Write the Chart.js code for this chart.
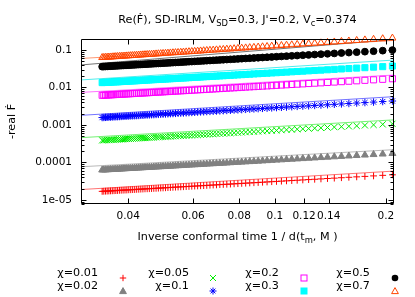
<!DOCTYPE html>
<html><head><meta charset="utf-8">
<script src="https://cdn.jsdelivr.net/npm/chart.js@4"></script>
<style>
html,body{margin:0;padding:0;background:#fff;}
#wrap{position:relative;width:415px;height:297px;overflow:hidden;font-family:"DejaVu Sans",sans-serif;color:#000;}
canvas{position:absolute;left:0;top:0;}
.t{position:absolute;white-space:nowrap;font-size:11.2px;line-height:12px;}
.t sub{font-size:75%;vertical-align:-0.35em;line-height:0;}
.lg{position:absolute;white-space:nowrap;font-size:11.2px;line-height:12px;text-align:right;}
.mk{position:absolute;width:10px;height:10px;}
</style></head><body>
<div id="wrap">
<canvas id="c" width="415" height="297"></canvas>
<div id="title" class="t">Re(Ḟ), SD-IRLM, V<sub>SD</sub>=0.3, J'=0.2, V<sub>c</sub>=0.374</div>
<div id="xtitle" class="t">Inverse conformal time 1 / d(t<sub>m</sub>, M )</div>
<div id="legend"></div>
</div>
<script>
// ---------- data ----------
const invTime = [0.20833,0.19608,0.18519,0.17544,0.16667,0.15873,0.15152,0.14493,0.13889,0.13333,
0.12821,0.12346,0.11905,0.11494,0.11111,0.10753,0.10417,0.10101,0.09804,0.09524,
0.09259,0.09009,0.08772,0.08547,0.08333,0.08130,0.07937,0.07752,0.07576,0.07407,
0.07246,0.07092,0.06944,0.06803,0.06667,0.06536,0.06410,0.06289,0.06173,0.06061,
0.05952,0.05848,0.05747,0.05650,0.05556,0.05464,0.05376,0.05291,0.05208,0.05128,
0.05051,0.04975,0.04902,0.04831,0.04762,0.04695,0.04630,0.04566,0.04505,0.04444,
0.04386,0.04329,0.04274,0.04219,0.04167,0.04115,0.04065,0.04016,0.03968,0.03922,
0.03876,0.03831,0.03788,0.03745,0.03704,0.03663,0.03623,0.03584,0.03546,0.03509,
0.03472,0.03436,0.03401];

const chi001 = [4.69e-5,4.54e-5,4.39e-5,4.26e-5,4.14e-5,4.03e-5,3.93e-5,3.83e-5,3.74e-5,3.65e-5,
3.57e-5,3.50e-5,3.43e-5,3.36e-5,3.30e-5,3.24e-5,3.18e-5,3.13e-5,3.08e-5,3.03e-5,
2.98e-5,2.93e-5,2.89e-5,2.85e-5,2.81e-5,2.77e-5,2.73e-5,2.70e-5,2.66e-5,2.63e-5,
2.60e-5,2.57e-5,2.53e-5,2.51e-5,2.48e-5,2.45e-5,2.42e-5,2.40e-5,2.37e-5,2.35e-5,
2.33e-5,2.30e-5,2.28e-5,2.26e-5,2.24e-5,2.22e-5,2.20e-5,2.18e-5,2.16e-5,2.14e-5,
2.12e-5,2.10e-5,2.09e-5,2.07e-5,2.05e-5,2.04e-5,2.02e-5,2.00e-5,1.99e-5,1.98e-5,
1.96e-5,1.95e-5,1.93e-5,1.92e-5,1.90e-5,1.89e-5,1.88e-5,1.87e-5,1.85e-5,1.84e-5,
1.83e-5,1.82e-5,1.81e-5,1.79e-5,1.78e-5,1.77e-5,1.76e-5,1.75e-5,1.74e-5,1.73e-5,
1.72e-5,1.71e-5,1.70e-5];

const chi002 = [17.39e-5,16.81e-5,16.28e-5,15.79e-5,15.34e-5,14.93e-5,14.55e-5,14.19e-5,13.85e-5,13.54e-5,
13.24e-5,12.97e-5,12.71e-5,12.46e-5,12.23e-5,12.00e-5,11.79e-5,11.59e-5,11.40e-5,11.21e-5,
11.04e-5,10.87e-5,10.71e-5,10.55e-5,10.41e-5,10.26e-5,10.12e-5,9.99e-5,9.87e-5,9.74e-5,
9.62e-5,9.51e-5,9.39e-5,9.29e-5,9.19e-5,9.08e-5,8.98e-5,8.89e-5,8.79e-5,8.71e-5,
8.62e-5,8.54e-5,8.45e-5,8.37e-5,8.29e-5,8.22e-5,8.14e-5,8.07e-5,7.99e-5,7.93e-5,
7.86e-5,7.79e-5,7.73e-5,7.67e-5,7.60e-5,7.55e-5,7.49e-5,7.43e-5,7.37e-5,7.32e-5,
7.26e-5,7.21e-5,7.16e-5,7.11e-5,7.06e-5,7.01e-5,6.96e-5,6.92e-5,6.87e-5,6.82e-5,
6.78e-5,6.73e-5,6.69e-5,6.65e-5,6.61e-5,6.56e-5,6.53e-5,6.49e-5,6.45e-5,6.41e-5,
6.38e-5,6.34e-5,6.30e-5];

const chi005 = [10.76e-4,10.41e-4,10.08e-4,9.77e-4,9.50e-4,9.24e-4,9.01e-4,8.78e-4,8.58e-4,8.38e-4,
8.20e-4,8.03e-4,7.87e-4,7.71e-4,7.57e-4,7.43e-4,7.30e-4,7.18e-4,7.06e-4,6.94e-4,
6.83e-4,6.73e-4,6.63e-4,6.53e-4,6.44e-4,6.35e-4,6.27e-4,6.19e-4,6.11e-4,6.03e-4,
5.96e-4,5.89e-4,5.81e-4,5.75e-4,5.69e-4,5.62e-4,5.56e-4,5.50e-4,5.44e-4,5.39e-4,
5.34e-4,5.28e-4,5.23e-4,5.18e-4,5.13e-4,5.09e-4,5.04e-4,5.00e-4,4.95e-4,4.91e-4,
4.87e-4,4.82e-4,4.79e-4,4.75e-4,4.71e-4,4.67e-4,4.64e-4,4.60e-4,4.56e-4,4.53e-4,
4.50e-4,4.47e-4,4.43e-4,4.40e-4,4.37e-4,4.34e-4,4.31e-4,4.28e-4,4.25e-4,4.22e-4,
4.20e-4,4.17e-4,4.14e-4,4.11e-4,4.09e-4,4.06e-4,4.04e-4,4.02e-4,3.99e-4,3.97e-4,
3.95e-4,3.92e-4,3.90e-4];

const chi01 = [4.36e-3,4.22e-3,4.08e-3,3.96e-3,3.85e-3,3.74e-3,3.65e-3,3.56e-3,3.47e-3,3.40e-3,
3.32e-3,3.25e-3,3.19e-3,3.13e-3,3.07e-3,3.01e-3,2.96e-3,2.91e-3,2.86e-3,2.81e-3,
2.77e-3,2.73e-3,2.69e-3,2.65e-3,2.61e-3,2.57e-3,2.54e-3,2.51e-3,2.47e-3,2.44e-3,
2.41e-3,2.38e-3,2.36e-3,2.33e-3,2.30e-3,2.28e-3,2.25e-3,2.23e-3,2.21e-3,2.18e-3,
2.16e-3,2.14e-3,2.12e-3,2.10e-3,2.08e-3,2.06e-3,2.04e-3,2.02e-3,2.01e-3,1.99e-3,
1.97e-3,1.95e-3,1.94e-3,1.92e-3,1.91e-3,1.89e-3,1.88e-3,1.86e-3,1.85e-3,1.84e-3,
1.82e-3,1.81e-3,1.79e-3,1.78e-3,1.77e-3,1.76e-3,1.75e-3,1.73e-3,1.72e-3,1.71e-3,
1.70e-3,1.69e-3,1.68e-3,1.67e-3,1.66e-3,1.65e-3,1.64e-3,1.63e-3,1.62e-3,1.61e-3,
1.60e-3,1.59e-3,1.58e-3];

const chi02 = [17.11e-3,16.54e-3,16.02e-3,15.54e-3,15.10e-3,14.69e-3,14.32e-3,13.96e-3,13.63e-3,13.32e-3,
13.03e-3,12.76e-3,12.51e-3,12.26e-3,12.03e-3,11.81e-3,11.61e-3,11.41e-3,11.22e-3,11.04e-3,
10.86e-3,10.70e-3,10.54e-3,10.39e-3,10.24e-3,10.10e-3,9.96e-3,9.83e-3,9.71e-3,9.59e-3,
9.47e-3,9.36e-3,9.24e-3,9.14e-3,9.04e-3,8.94e-3,8.84e-3,8.75e-3,8.66e-3,8.57e-3,
8.48e-3,8.40e-3,8.31e-3,8.24e-3,8.16e-3,8.08e-3,8.01e-3,7.94e-3,7.87e-3,7.80e-3,
7.74e-3,7.67e-3,7.61e-3,7.55e-3,7.48e-3,7.43e-3,7.37e-3,7.31e-3,7.25e-3,7.20e-3,
7.15e-3,7.10e-3,7.04e-3,6.99e-3,6.94e-3,6.90e-3,6.85e-3,6.81e-3,6.76e-3,6.71e-3,
6.67e-3,6.63e-3,6.58e-3,6.54e-3,6.50e-3,6.46e-3,6.42e-3,6.39e-3,6.35e-3,6.31e-3,
6.27e-3,6.24e-3,6.20e-3];

const chi03 = [3.73e-2,3.60e-2,3.49e-2,3.38e-2,3.29e-2,3.20e-2,3.12e-2,3.04e-2,2.97e-2,2.90e-2,
2.84e-2,2.78e-2,2.72e-2,2.67e-2,2.62e-2,2.57e-2,2.53e-2,2.48e-2,2.44e-2,2.40e-2,
2.37e-2,2.33e-2,2.30e-2,2.26e-2,2.23e-2,2.20e-2,2.17e-2,2.14e-2,2.11e-2,2.09e-2,
2.06e-2,2.04e-2,2.01e-2,1.99e-2,1.97e-2,1.95e-2,1.93e-2,1.90e-2,1.88e-2,1.87e-2,
1.85e-2,1.83e-2,1.81e-2,1.79e-2,1.78e-2,1.76e-2,1.74e-2,1.73e-2,1.71e-2,1.70e-2,
1.68e-2,1.67e-2,1.66e-2,1.64e-2,1.63e-2,1.62e-2,1.61e-2,1.59e-2,1.58e-2,1.57e-2,
1.56e-2,1.55e-2,1.53e-2,1.52e-2,1.51e-2,1.50e-2,1.49e-2,1.48e-2,1.47e-2,1.46e-2,
1.45e-2,1.44e-2,1.43e-2,1.42e-2,1.42e-2,1.41e-2,1.40e-2,1.39e-2,1.38e-2,1.37e-2,
1.37e-2,1.36e-2,1.35e-2];

const chi05 = [9.94e-2,9.60e-2,9.30e-2,9.02e-2,8.77e-2,8.53e-2,8.31e-2,8.11e-2,7.92e-2,7.74e-2,
7.57e-2,7.41e-2,7.26e-2,7.12e-2,6.99e-2,6.86e-2,6.74e-2,6.62e-2,6.51e-2,6.41e-2,
6.31e-2,6.21e-2,6.12e-2,6.03e-2,5.95e-2,5.86e-2,5.79e-2,5.71e-2,5.64e-2,5.57e-2,
5.50e-2,5.43e-2,5.37e-2,5.31e-2,5.25e-2,5.19e-2,5.13e-2,5.08e-2,5.03e-2,4.98e-2,
4.92e-2,4.88e-2,4.83e-2,4.78e-2,4.74e-2,4.69e-2,4.65e-2,4.61e-2,4.57e-2,4.53e-2,
4.49e-2,4.45e-2,4.42e-2,4.38e-2,4.35e-2,4.31e-2,4.28e-2,4.24e-2,4.21e-2,4.18e-2,
4.15e-2,4.12e-2,4.09e-2,4.06e-2,4.03e-2,4.01e-2,3.98e-2,3.95e-2,3.92e-2,3.90e-2,
3.87e-2,3.85e-2,3.82e-2,3.80e-2,3.78e-2,3.75e-2,3.73e-2,3.71e-2,3.69e-2,3.66e-2,
3.64e-2,3.62e-2,3.60e-2];

const chi07 = [20.83e-2,20.02e-2,19.28e-2,18.60e-2,17.98e-2,17.41e-2,16.89e-2,16.40e-2,15.95e-2,15.52e-2,
15.13e-2,14.75e-2,14.40e-2,14.07e-2,13.76e-2,13.46e-2,13.19e-2,12.92e-2,12.67e-2,12.43e-2,
12.20e-2,11.98e-2,11.77e-2,11.57e-2,11.38e-2,11.20e-2,11.02e-2,10.85e-2,10.68e-2,10.53e-2,
10.38e-2,10.23e-2,10.09e-2,9.95e-2,9.83e-2,9.70e-2,9.57e-2,9.45e-2,9.34e-2,9.22e-2,
9.12e-2,9.01e-2,8.91e-2,8.81e-2,8.71e-2,8.61e-2,8.52e-2,8.44e-2,8.35e-2,8.26e-2,
8.18e-2,8.10e-2,8.02e-2,7.94e-2,7.87e-2,7.79e-2,7.72e-2,7.65e-2,7.59e-2,7.52e-2,
7.45e-2,7.39e-2,7.33e-2,7.26e-2,7.20e-2,7.14e-2,7.09e-2,7.03e-2,6.97e-2,6.92e-2,
6.87e-2,6.82e-2,6.77e-2,6.72e-2,6.67e-2,6.62e-2,6.57e-2,6.52e-2,6.48e-2,6.43e-2,
6.39e-2,6.34e-2,6.30e-2];

// fitted power-law lines: value at the left and right end of the x range
const fitX     = [0.0298, 0.2104];
const fitLeft  = [1.9e-5, 7.7e-5, 4.6e-4, 1.81e-3, 7.4e-3, 1.59e-2, 4.0e-2, 0.0595];
const fitRight = [5.9e-5, 2.2e-4, 1.37e-3, 5.7e-3, 2.15e-2, 5.4e-2, 0.19, 0.18];

const seriesLabels = ['χ=0.01','χ=0.02','χ=0.05','χ=0.1','χ=0.2','χ=0.3','χ=0.5','χ=0.7'];
const seriesValues = [chi001, chi002, chi005, chi01, chi02, chi03, chi05, chi07];

const xTickValues = [0.04,0.06,0.08,0.1,0.12,0.14,0.2];
const xTickLabels = ['0.04','0.06','0.08','0.1','0.12','0.14','0.2'];
const yTickValues = [1e-5,1e-4,1e-3,1e-2,1e-1];
const yTickLabels = ['1e-05','0.0001','0.001','0.01','0.1'];
const yMinorTicks = [8e-6,9e-6,2e-5,3e-5,4e-5,5e-5,6e-5,7e-5,8e-5,9e-5,2e-4,3e-4,4e-4,5e-4,6e-4,7e-4,8e-4,9e-4,
  2e-3,3e-3,4e-3,5e-3,6e-3,7e-3,8e-3,9e-3,0.02,0.03,0.04,0.05,0.06,0.07,0.08,0.09];

// ---------- styles ----------
const styles = [
  {c:'#ff0000', line:'rgba(255,0,0,0.55)',     ps:'cross',    r:3.4, fill:false},
  {c:'#808080', line:'rgba(128,128,128,0.55)', ps:'triangle', r:4.0, fill:true},
  {c:'#00ee00', line:'rgba(0,230,0,0.55)',     ps:'crossRot', r:4.4, fill:false},
  {c:'#0000ff', line:'rgba(0,0,255,0.55)',     ps:'star',     r:3.7, fill:false},
  {c:'#ff00ff', line:'rgba(255,0,255,0.55)',   ps:'rect',     r:4.3, fill:false},
  {c:'#00ffff', line:'rgba(0,230,230,0.7)',    ps:'rect',     r:4.3, fill:true},
  {c:'#000000', line:'rgba(0,0,0,0.55)',       ps:'circle',   r:3.4, fill:true},
  {c:'#ff4500', line:'rgba(255,69,0,0.55)',    ps:'triangle', r:4.0, fill:false}
];

const datasets = [];
seriesValues.forEach((vals, i) => {
  const s = styles[i];
  datasets.push({
    label: seriesLabels[i],
    data: invTime.map((x, k) => ({x: x, y: vals[k]})),
    showLine: false,
    pointStyle: s.ps, pointRadius: s.r, pointHoverRadius: s.r,
    borderColor: s.c, backgroundColor: s.fill ? s.c : 'rgba(0,0,0,0)',
    pointBorderWidth: 1, borderWidth: 1,
    clip: false, order: 100 - 2*i
  });
  datasets.push({
    label: seriesLabels[i] + ' fit',
    data: [{x: fitX[0], y: fitLeft[i]}, {x: fitX[1], y: fitRight[i]}],
    showLine: true, pointRadius: 0, borderColor: s.line, borderWidth: 1,
    order: 99 - 2*i
  });
});

const frameTicks = {
  id: 'frameTicks',
  afterDraw(chart) {
    const {ctx, chartArea: a, scales: {x, y}} = chart;
    const L = Math.round(a.left) + 0.5, R = Math.round(a.right) - 0.5;
    const T = Math.round(a.top) + 0.5, B = Math.round(a.bottom) - 0.5;
    ctx.save();
    ctx.strokeStyle = '#000'; ctx.lineWidth = 1;
    ctx.beginPath();
    ctx.rect(L, T, R - L, B - T);
    yTickValues.forEach(v => { const p = Math.round(y.getPixelForValue(v)) + 0.5;
      ctx.moveTo(L, p); ctx.lineTo(L + 5, p); ctx.moveTo(R, p); ctx.lineTo(R - 5, p); });
    yMinorTicks.forEach(v => { const p = Math.round(y.getPixelForValue(v)) + 0.5;
      ctx.moveTo(L, p); ctx.lineTo(L + 3, p); ctx.moveTo(R, p); ctx.lineTo(R - 3, p); });
    xTickValues.forEach(v => { const p = Math.round(x.getPixelForValue(v)) + 0.5;
      ctx.moveTo(p, B); ctx.lineTo(p, B - 5); ctx.moveTo(p, T); ctx.lineTo(p, T + 5); });
    ctx.stroke();
    ctx.restore();
  }
};

Chart.defaults.color = '#000';
Chart.defaults.font.family = '"DejaVu Sans", sans-serif';
Chart.defaults.font.size = 10.5;

new Chart(document.getElementById('c'), {
  type: 'scatter',
  data: {datasets},
  options: {
    responsive: false, animation: false, devicePixelRatio: 1,
    layout: {padding: {top: 39, right: 21, left: 0, bottom: 0}},
    plugins: {legend: {display: false}, tooltip: {enabled: false}, title: {display: false}},
    scales: {
      x: {
        type: 'logarithmic', min: fitX[0], max: fitX[1], bounds: 'data',
        grid: {display: false, drawTicks: false}, border: {display: false},
        afterBuildTicks(s) { s.ticks = xTickValues.map(v => ({value: v})); },
        afterFit(s) { s.height = 93; },
        ticks: {autoSkip: false, maxRotation: 0, minRotation: 0, padding: 6, color: '#000',
          callback: (v, i) => xTickLabels[i]}
      },
      y: {
        type: 'logarithmic', min: 7.82e-6, max: 0.1965, bounds: 'data',
        grid: {display: false, drawTicks: false}, border: {display: false},
        afterBuildTicks(s) { s.ticks = yTickValues.map(v => ({value: v})); },
        afterFit(s) { s.width = 81; },
        ticks: {autoSkip: false, padding: 9, color: '#000', callback: (v, i) => yTickLabels[i]},
        title: {display: true, text: '-real Ḟ', color: '#000', font: {size: 11.2}, padding: {top: 5, bottom: 0}}
      }
    }
  },
  plugins: [frameTicks]
});

// ---------- titles & legend (HTML text) ----------
function place(el, cx, cy) {
  el.style.left = cx + 'px'; el.style.top = cy + 'px';
  el.style.transform = 'translate(-50%,-50%)';
}
place(document.getElementById('title'), 237.5, 20);
place(document.getElementById('xtitle'), 237.5, 237);

const legendTextRight = [98, 189, 279, 370];
const legendMarkX = [122.7, 213.3, 304, 395];
const legendRowY = [272.7, 285.7];
function markerSVG(s) {
  const c = s.c; let body = '';
  switch (s.ps) {
    case 'cross': body = `<path d="M1.8 5H8.2M5 1.8V8.2" stroke="${c}" stroke-width="1" fill="none"/>`; break;
    case 'triangle': body = `<polygon points="5,1.6 8.4,7.6 1.6,7.6" stroke="${c}" stroke-width="1" fill="${s.fill ? c : 'none'}"/>`; break;
    case 'crossRot': body = `<path d="M2 2L8 8M2 8L8 2" stroke="${c}" stroke-width="1" fill="none"/>`; break;
    case 'star': body = `<path d="M1.5 5H8.5M5 1.5V8.5M2.6 2.6L7.4 7.4M2.6 7.4L7.4 2.6" stroke="${c}" stroke-width="1" fill="none"/>`; break;
    case 'rect': body = `<rect x="2" y="2" width="6" height="6" stroke="${c}" stroke-width="1" fill="${s.fill ? c : 'none'}"/>`; break;
    case 'circle': body = `<circle cx="5" cy="5" r="3.3" fill="${c}"/>`; break;
  }
  return `<svg width="10" height="10" viewBox="0 0 10 10">${body}</svg>`;
}
const leg = document.getElementById('legend');
seriesLabels.forEach((lab, i) => {
  const col = Math.floor(i / 2), row = i % 2;
  const t = document.createElement('div');
  t.className = 'lg'; t.textContent = lab;
  t.style.right = (415 - legendTextRight[col]) + 'px';
  t.style.top = (legendRowY[row] - 6) + 'px';
  leg.appendChild(t);
  const m = document.createElement('div');
  m.className = 'mk';
  m.style.left = (legendMarkX[col] - 5) + 'px';
  m.style.top = (legendRowY[row] - 5) + 'px';
  m.innerHTML = markerSVG(styles[i]);
  leg.appendChild(m);
});
</script>
</body></html>
